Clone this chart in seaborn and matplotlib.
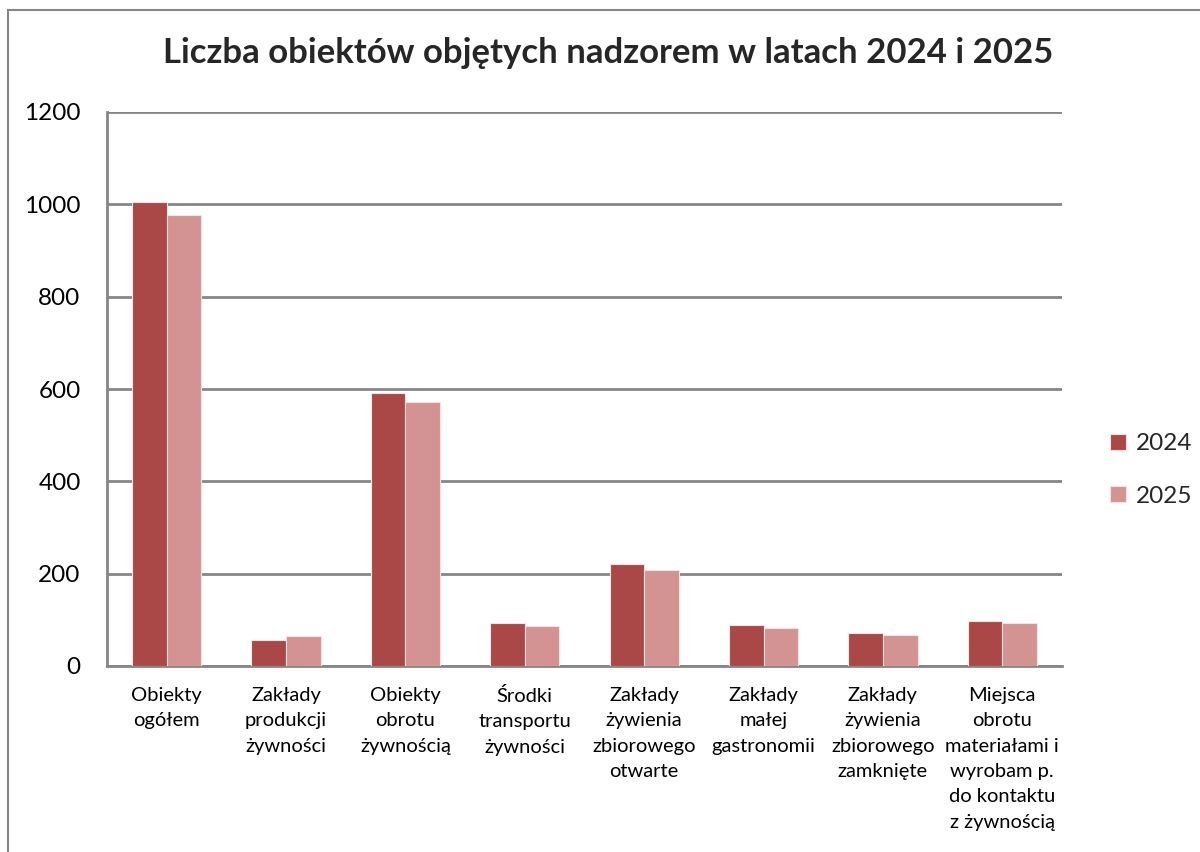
import pandas as pd
import numpy as np
import matplotlib
matplotlib.use("Agg")
import matplotlib.pyplot as plt
import seaborn as sns
from matplotlib.patches import Rectangle

# -----------------------------
# Data
# -----------------------------
categories = [
    "Obiekty\nogółem",
    "Zakłady\nprodukcji\nżywności",
    "Obiekty\nobrotu\nżywnością",
    "Środki\ntransportu\nżywności",
    "Zakłady\nżywienia\nzbiorowego\notwarte",
    "Zakłady\nmałej\ngastronomii",
    "Zakłady\nżywienia\nzbiorowego\nzamknięte",
    "Miejsca\nobrotu\nmateriałami i\nwyrobam p.\ndo kontaktu\nz żywnością",
]
values_2024 = [1006, 57, 592, 94, 221, 88, 72, 98]
values_2025 = [977, 65, 571, 86, 209, 83, 68, 94]
years = ["2024", "2025"]
colors = ["#A94846", "#D39392"]
title = "Liczba obiektów objętych nadzorem w latach 2024 i 2025"

df = pd.DataFrame({
    "kategoria": categories * 2,
    "rok": [years[0]] * len(categories) + [years[1]] * len(categories),
    "liczba": values_2024 + values_2025,
})

# -----------------------------
# Plot
# -----------------------------
sns.set_style("white")
plt.rcParams["font.family"] = ["Lato", "DejaVu Sans"]

fig = plt.figure(figsize=(12, 8.52), dpi=100)
ax = fig.add_axes([107 / 1200, 1 - 666 / 852, (1062 - 107) / 1200, (666 - 112) / 852])

sns.barplot(data=df, x="kategoria", y="liczba", hue="rok", palette=colors,
            saturation=1, width=0.58, gap=0, edgecolor="#F3E3E3",
            linewidth=0.8, ax=ax, zorder=3)

ax.set_ylim(0, 1200)
ax.set_yticks(np.arange(0, 1201, 200))
ax.yaxis.grid(True, color="#868686", linewidth=2)
ax.set_axisbelow(True)
ax.set_xlabel("")
ax.set_ylabel("")

for side in ["top", "right"]:
    ax.spines[side].set_visible(False)
for side in ["left", "bottom"]:
    ax.spines[side].set_color("#868686")
    ax.spines[side].set_linewidth(2)

ax.tick_params(axis="y", length=0, pad=19, labelsize=17.5, labelcolor="black")
ax.tick_params(axis="x", length=0, pad=15, labelsize=14.5, labelcolor="black")
for lbl in ax.get_xticklabels():
    lbl.set_linespacing(1.6)
    lbl.set_verticalalignment("top")

leg = ax.legend(loc="center left", bbox_to_anchor=(1088 / 1200, 1 - 470 / 852),
                bbox_transform=fig.transFigure, frameon=False, fontsize=17.5,
                handlelength=0.65, handleheight=0.65, handletextpad=0.4,
                labelspacing=1.3)

fig.text(608 / 1200, 1 - 53 / 852, title, ha="center", va="center",
         fontsize=25, fontweight="bold")

# outer chart border
fig.patches.append(Rectangle((7.5 / 1200, -0.1), 1.2, 1 - 10 / 852 + 0.1,
                             transform=fig.transFigure, fill=False,
                             edgecolor="#868686", linewidth=1.5))

fig.savefig("out.png", dpi=100)
